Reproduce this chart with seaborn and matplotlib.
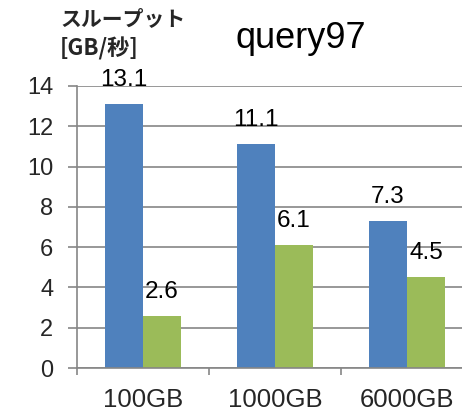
import matplotlib
matplotlib.use("Agg")
import matplotlib.pyplot as plt
import seaborn as sns
import pandas as pd

categories = ["100GB", "1000GB", "6000GB"]
series_names = ["A", "B"]
series_a = [13.1, 11.1, 7.3]
series_b = [2.6, 6.1, 4.5]
y_ticks = [0, 2, 4, 6, 8, 10, 12, 14]

sns.set_theme(style="white")
plt.rcParams["font.family"] = ["Liberation Sans", "DejaVu Sans"]

df = pd.DataFrame({
    "size": categories * 2,
    "series": [series_names[0]] * 3 + [series_names[1]] * 3,
    "value": series_a + series_b,
})

W, H = 462, 411
fig = plt.figure(figsize=(W / 100, H / 100), dpi=100)
ax = fig.add_axes([77 / W, 1 - 368 / H, 396 / W, (368 - 86) / H])

colors = ["#4F81BD", "#9BBB59"]
sns.barplot(data=df, x="size", y="value", hue="series", order=categories,
            hue_order=series_names, palette=colors, width=0.576,
            saturation=1, legend=False, ax=ax, edgecolor="none", linewidth=0)

ax.set_ylim(0, 14)
ax.set_xlim(-0.5, 2.5)
ax.set_yticks(y_ticks)
ax.set_yticklabels([str(t) for t in y_ticks])
ax.yaxis.grid(True, color="#868686", linewidth=1.2)
ax.set_axisbelow(True)
ax.set_xlabel("")
ax.set_ylabel("")

for side in ["top", "right"]:
    ax.spines[side].set_visible(False)
for side in ["left", "bottom"]:
    ax.spines[side].set_color("#868686")
    ax.spines[side].set_linewidth(1.2)

ax.tick_params(axis="y", which="major", length=6.5, width=1.2, color="#868686",
               direction="out", labelsize=17, pad=10.5, left=True)
ax.set_xticks([0, 1, 2])
ax.set_xticklabels(categories)
ax.tick_params(axis="x", which="major", length=0, labelsize=18.5, pad=14.5)
ax.set_xticks([-0.5, 0.5, 1.5], minor=True)
ax.tick_params(axis="x", which="minor", length=5, width=1.2, color="#868686",
               direction="out", bottom=True)

for cont in ax.containers:
    for bar in cont:
        h = bar.get_height()
        ax.annotate(f"{h:.1f}", (bar.get_x() + bar.get_width() / 2, h),
                    xytext=(0, 13), textcoords="offset points",
                    ha="center", va="baseline", fontsize=17.5, color="#000000",
                    annotation_clip=False)

fig.text(301 / W, 1 - 38 / H, "query97", ha="center", va="center",
         fontsize=26, color="#000000")
fig.text(60 / W, 1 - 19 / H, "スループット", ha="left", va="center",
         fontsize=15, fontweight="bold",
         family=["Noto Sans CJK JP", "DejaVu Sans"])
fig.text(60 / W, 1 - 49 / H, "[GB/秒]", ha="left", va="center",
         fontsize=16, fontweight="bold",
         family=["Noto Sans CJK JP", "DejaVu Sans"])

fig.savefig("out.png", dpi=100)
